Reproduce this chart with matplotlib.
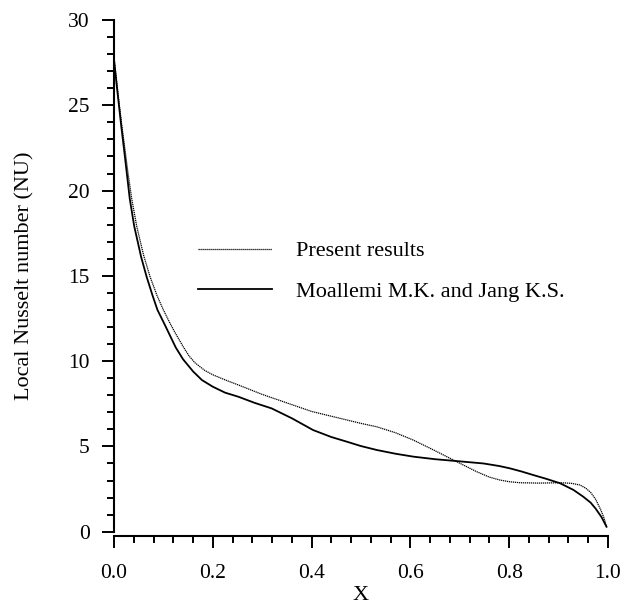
import numpy as np
import matplotlib.pyplot as plt
from matplotlib.ticker import MultipleLocator

plt.rcParams['font.family'] = 'Liberation Serif'

# Present results (dotted)
x_present = [0.0, 0.005, 0.01, 0.015, 0.02, 0.028, 0.036, 0.046, 0.06, 0.073, 0.087,
             0.1, 0.112, 0.123, 0.14, 0.152, 0.164, 0.184, 0.2, 0.225, 0.252, 0.3,
             0.35, 0.4, 0.45, 0.5, 0.532, 0.57, 0.606, 0.647, 0.694, 0.734, 0.76,
             0.781, 0.8, 0.822, 0.86, 0.903, 0.925, 0.943, 0.955, 0.965, 0.975,
             0.985, 0.992, 0.997]
nu_present = [27.7, 26.5, 25.2, 24.0, 22.9, 21.1, 19.5, 17.9, 16.2, 14.95, 13.85,
              13.0, 12.3, 11.7, 10.85, 10.3, 9.9, 9.45, 9.2, 8.9, 8.6, 8.05,
              7.55, 7.05, 6.7, 6.35, 6.15, 5.8, 5.37, 4.79, 4.1, 3.52, 3.2,
              3.03, 2.93, 2.87, 2.85, 2.87, 2.84, 2.74, 2.55, 2.3, 1.9,
              1.3, 0.8, 0.29]

# Moallemi M.K. and Jang K.S. (solid)
x_moal = [0.0, 0.005, 0.01, 0.015, 0.02, 0.026, 0.032, 0.041, 0.055, 0.066, 0.078,
          0.088, 0.1, 0.11, 0.125, 0.14, 0.16, 0.178, 0.2, 0.225, 0.252, 0.285,
          0.319, 0.36, 0.403, 0.44, 0.471, 0.5, 0.532, 0.57, 0.606, 0.65, 0.694,
          0.748, 0.78, 0.802, 0.825, 0.849, 0.875, 0.903, 0.93, 0.95, 0.965,
          0.975, 0.987, 0.997]
nu_moal = [27.7, 26.3, 25.0, 23.7, 22.5, 21.0, 19.5, 17.9, 16.1, 14.95, 13.85,
           13.0, 12.3, 11.7, 10.8, 10.1, 9.4, 8.89, 8.5, 8.15, 7.91, 7.55,
           7.23, 6.65, 5.96, 5.55, 5.28, 5.02, 4.79, 4.57, 4.40, 4.25, 4.14,
           4.0, 3.85, 3.71, 3.53, 3.32, 3.1, 2.84, 2.45, 2.05, 1.7,
           1.35, 0.85, 0.29]

fig = plt.figure(figsize=(6.39, 6.04), dpi=100)
ax = fig.add_axes([0.1784, 0.1197, 0.7731, 0.8472])

ax.plot(x_present, nu_present, color='black', lw=0.9, linestyle=(0, (1, 0.6)),
        label='Present results')
ax.plot(x_moal, nu_moal, color='black', lw=1.3, label='Moallemi M.K. and Jang K.S.')

ax.set_xlim(0, 1.0)
ax.set_ylim(0, 30)
ax.spines['top'].set_visible(False)
ax.spines['right'].set_visible(False)
ax.spines['left'].set_linewidth(1.5)
ax.spines['bottom'].set_linewidth(1.5)
ax.spines['bottom'].set_position(('outward', 3))

ax.xaxis.set_major_locator(MultipleLocator(0.2))
ax.xaxis.set_minor_locator(MultipleLocator(0.04))
ax.yaxis.set_major_locator(MultipleLocator(5))
ax.yaxis.set_minor_locator(MultipleLocator(1))
ax.xaxis.set_major_formatter(plt.FormatStrFormatter('%.1f'))

ax.tick_params(which='major', length=8.5, width=1.4, labelsize=15.5)
ax.tick_params(which='minor', length=5, width=1.4)
ax.tick_params(axis='x', which='major', pad=12)
ax.tick_params(axis='y', which='major', pad=9)

ax.set_xlabel('X', fontsize=16, labelpad=2)
ax.set_ylabel('Local Nusselt number (NU)', fontsize=16, labelpad=24)

ax.legend(loc='upper left', bbox_to_anchor=(0.148, 0.59), frameon=False,
          fontsize=16, handlelength=3.3, handletextpad=1.12, labelspacing=0.9,
          borderpad=0)

fig.savefig('out.png', dpi=100)
